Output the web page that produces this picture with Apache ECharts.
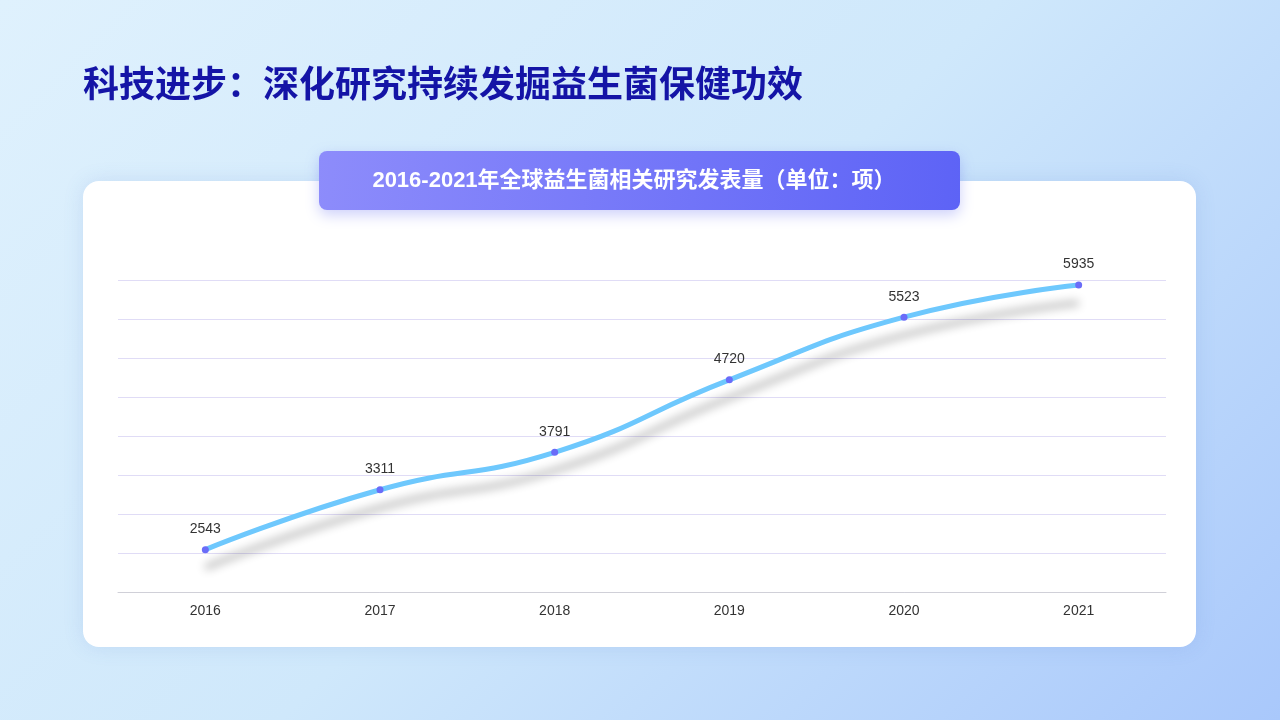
<!DOCTYPE html>
<html>
<head>
<meta charset="utf-8">
<script src="https://cdn.jsdelivr.net/npm/echarts@6/dist/echarts.min.js"></script>
<style>
  html, body { margin: 0; padding: 0; }
  body { width: 1280px; height: 720px; background: linear-gradient(135deg, #dff1fd 0%, #cfe8fb 50%, #a9c8fb 100%); }
  #chart { width: 1280px; height: 720px; }
</style>
</head>
<body>
<div id="chart"></div>
<script>
const years = ['2016', '2017', '2018', '2019', '2020', '2021'];
const papers = [2543, 3311, 3791, 4720, 5523, 5935];

const chart = echarts.init(document.getElementById('chart'));
chart.setOption({
    title: [{
        text: '科技进步：深化研究持续发掘益生菌保健功效',
        left: 78, top: 60,
        textStyle: { color: '#1414a6', fontSize: 36, fontWeight: 'bold', fontFamily: 'Noto Sans CJK SC' }
    }],
    graphic: [
        {
            type: 'rect', z: -10,
            shape: { x: 83, y: 181, width: 1113, height: 466, r: 16 },
            style: { fill: '#fff', shadowBlur: 20, shadowColor: 'rgba(80,120,200,0.15)' }
        },
        {
            type: 'rect', z: -5,
            shape: { x: 319, y: 151, width: 641, height: 59, r: 8 },
            style: {
                fill: new echarts.graphic.LinearGradient(0, 0, 1, 1, [
                    { offset: 0, color: '#8d8cfb' }, { offset: 1, color: '#5d63f6' }
                ]),
                shadowBlur: 14, shadowOffsetY: 5, shadowColor: 'rgba(90,100,240,0.3)'
            }
        },
        {
            type: 'text', z: -4, x: 634, y: 181,
            style: {
                text: '2016-2021年全球益生菌相关研究发表量（单位：项）',
                fill: '#fff', fontSize: 22, fontWeight: 'bold', fontFamily: 'Liberation Sans, Noto Sans CJK SC',
                align: 'center', verticalAlign: 'middle'
            }
        }
    ],
    grid: { left: 118, right: 114, top: 280, bottom: 128 },
    xAxis: {
        type: 'category',
        data: years,
        axisLine: { lineStyle: { color: '#d0d0d8' } },
        axisTick: { lineStyle: { color: '#d0d0d8' } },
        axisLabel: { color: '#333', fontSize: 14, margin: 12, fontFamily: 'Liberation Sans' }
    },
    yAxis: {
        type: 'value', min: 2000, max: 6000, interval: 500,
        axisLabel: { show: false },
        axisLine: { show: false },
        axisTick: { show: false },
        splitLine: { lineStyle: { color: '#e0dcf6' } }
    },
    series: [{
        type: 'line',
        data: papers,
        smooth: true,
        symbol: 'circle',
        symbolSize: 7,
        itemStyle: { color: '#6a6cf8' },
        lineStyle: {
            color: '#6ec8fd', width: 5,
            shadowColor: 'rgba(0,0,0,0.3)', shadowBlur: 10, shadowOffsetY: 18
        },
        label: { show: true, position: 'top', distance: 10, color: '#333', fontSize: 14, fontFamily: 'Liberation Sans' }
    }]
});
</script>
</body>
</html>
